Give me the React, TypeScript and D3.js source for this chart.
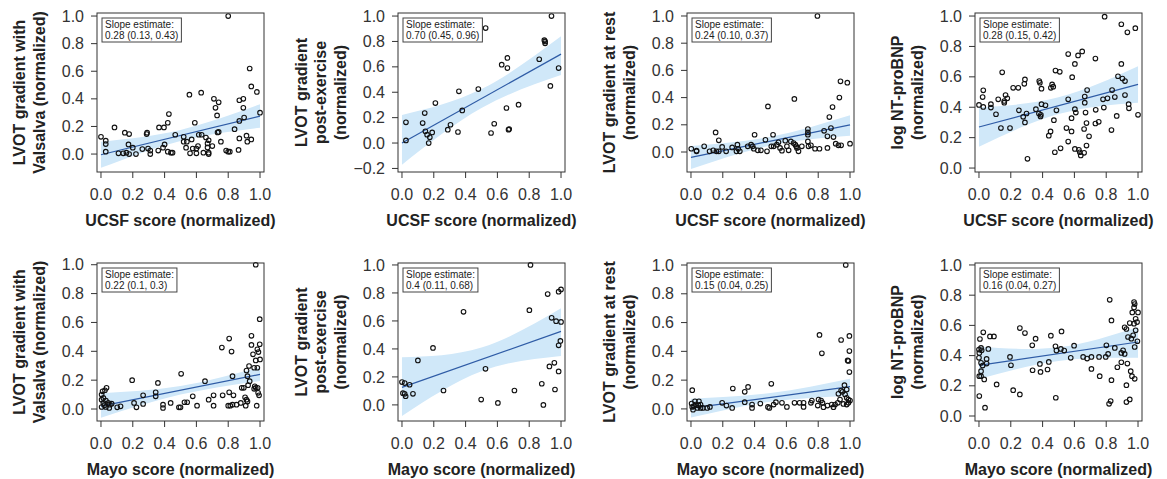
import React, { useEffect, useRef } from 'react';
import * as d3 from 'd3';

const FONT = '"Liberation Sans", Arial, Helvetica, sans-serif';

// axis titles
const yTitles = [
  ['LVOT gradient with', 'Valsalva (normalized)'],
  ['LVOT gradient', 'post-exercise', '(normalized)'],
  ['LVOT gradient at rest', '(normalized)'],
  ['log NT-proBNP', '(normalized)'],
];
const xTitles = ['UCSF score (normalized)', 'Mayo score (normalized)'];

const slopeLabels = [
  '0.28 (0.13, 0.43)', '0.70 (0.45, 0.96)', '0.24 (0.10, 0.37)', '0.28 (0.15, 0.42)',
  '0.22 (0.1, 0.3)', '0.4 (0.11, 0.68)', '0.15 (0.04, 0.25)', '0.16 (0.04, 0.27)',
];

const xTicks = [0, 0.2, 0.4, 0.6, 0.8, 1.0];
const yTicks = [0, 0.2, 0.4, 0.6, 0.8, 1.0];
const yTicksExercise = [-0.2, 0, 0.2, 0.4, 0.6, 0.8, 1.0];

// fitted line: y at x=0 and at x=1
const fitLines = [
  [-0.005, 0.275], [0.0, 0.70], [-0.04, 0.20], [0.27, 0.55],
  [0.02, 0.24], [0.125, 0.525], [0.005, 0.155], [0.335, 0.49],
];
// confidence band read at x = 0, 0.5, 1
const bandX = [0, 0.5, 1];
const bandLower = [
  [-0.10, 0.095, 0.19], [-0.17, 0.275, 0.535], [-0.125, 0.048, 0.12], [0.14, 0.355, 0.43],
  [-0.06, 0.10, 0.195], [-0.08, 0.24, 0.35], [-0.06, 0.05, 0.09], [0.245, 0.365, 0.385],
];
const bandUpper = [
  [0.09, 0.175, 0.36], [0.22, 0.425, 0.84], [0.045, 0.112, 0.27], [0.40, 0.465, 0.67],
  [0.11, 0.16, 0.29], [0.34, 0.41, 0.69], [0.07, 0.11, 0.21], [0.46, 0.455, 0.59],
];

const ucsfValsalva = [
  [0.80, 1.0], [0.935, 0.62], [0.945, 0.49], [0.98, 0.45], [0.556, 0.43], [0.63, 0.445], [0.71, 0.40],
  [0.74, 0.375], [0.72, 0.335], [0.73, 0.28], [0.87, 0.39], [0.895, 0.40], [0.895, 0.335], [0.90, 0.265],
  [0.87, 0.24], [1.0, 0.30], [0.84, 0.18], [0.74, 0.16], [0.427, 0.29], [0.42, 0.227], [0.365, 0.193],
  [0.396, 0.193], [0.59, 0.227], [0.085, 0.193], [0.15, 0.155], [0.177, 0.145], [0.287, 0.145],
  [0.29, 0.155], [0.0, 0.125], [0.03, 0.097], [0.03, 0.072], [0.03, 0.017], [0.173, 0.07], [0.2, 0.046],
  [0.11, 0.005], [0.14, 0.005], [0.16, 0.01], [0.177, 0.0], [0.22, 0.0], [0.26, 0.036], [0.296, 0.04],
  [0.31, 0.025], [0.31, 0.0], [0.36, 0.025], [0.39, 0.046], [0.40, 0.07], [0.42, 0.017], [0.44, 0.01],
  [0.45, 0.01], [0.467, 0.14], [0.52, 0.125], [0.52, 0.09], [0.54, 0.09], [0.535, 0.046], [0.57, 0.106],
  [0.56, 0.005], [0.577, 0.04], [0.60, 0.04], [0.61, 0.058], [0.60, 0.005], [0.615, 0.14], [0.633, 0.14],
  [0.644, 0.01], [0.67, 0.077], [0.67, 0.048], [0.677, 0.01], [0.677, 0.0], [0.66, 0.12], [0.677, 0.1],
  [0.70, 0.058], [0.733, 0.157], [0.754, 0.09], [0.787, 0.025], [0.80, 0.017], [0.81, 0.017],
  [0.87, 0.113], [0.865, 0.03], [0.915, 0.133], [0.92, 0.09], [0.945, 0.106],
];

const ucsfExercise = [
  [0.94, 1.0], [0.526, 0.905], [0.895, 0.81], [0.90, 0.80], [0.90, 0.785], [0.863, 0.66], [0.663, 0.67],
  [0.627, 0.617], [0.663, 0.59], [0.985, 0.59], [0.933, 0.45], [0.48, 0.425], [0.358, 0.407],
  [0.21, 0.315], [0.379, 0.257], [0.657, 0.276], [0.733, 0.302], [0.143, 0.236], [0.025, 0.163],
  [0.13, 0.157], [0.305, 0.144], [0.58, 0.152], [0.288, 0.105], [0.352, 0.087], [0.147, 0.092],
  [0.158, 0.066], [0.19, 0.084], [0.175, 0.045], [0.168, 0.0], [0.025, 0.021], [0.56, 0.079],
  [0.674, 0.11], [0.67, 0.105],
];

const ucsfRest = [
  [0.795, 1.0], [0.94, 0.52], [0.983, 0.51], [0.933, 0.40], [0.65, 0.39], [0.484, 0.335], [0.89, 0.33],
  [0.87, 0.257], [0.88, 0.176], [0.837, 0.156], [0.155, 0.144], [0.735, 0.169], [0.735, 0.144],
  [0.735, 0.127], [0.40, 0.127], [0.516, 0.127], [0.175, 0.086], [0.468, 0.09], [0.858, 0.115],
  [0.896, 0.11], [0.735, 0.078], [0.083, 0.042], [0.002, 0.024], [0.035, 0.01], [0.035, 0.005],
  [0.117, 0.005], [0.14, 0.012], [0.16, 0.005], [0.175, 0.005], [0.196, 0.037], [0.221, 0.005],
  [0.259, 0.034], [0.286, 0.005], [0.292, 0.054], [0.297, 0.024], [0.307, 0.005], [0.357, 0.042],
  [0.378, 0.054], [0.388, 0.042], [0.395, 0.024], [0.42, 0.012], [0.44, 0.012], [0.478, 0.005],
  [0.505, 0.042], [0.52, 0.042], [0.54, 0.054], [0.55, 0.071], [0.56, 0.03], [0.572, 0.01],
  [0.593, 0.083], [0.603, 0.042], [0.614, 0.012], [0.628, 0.078], [0.645, 0.066], [0.656, 0.054],
  [0.662, 0.042], [0.666, 0.03], [0.676, 0.005], [0.697, 0.042], [0.739, 0.042], [0.754, 0.049],
  [0.78, 0.024], [0.808, 0.024], [0.858, 0.03], [0.91, 0.061], [0.927, 0.049], [0.944, 0.049],
  [1.0, 0.061],
];

const ucsfBnp = [
  [0.79, 0.996], [0.895, 0.946], [0.933, 0.893], [0.983, 0.92], [0.895, 0.685], [0.649, 0.767],
  [0.623, 0.741], [0.561, 0.75], [0.732, 0.72], [0.603, 0.685], [0.481, 0.641], [0.508, 0.633],
  [0.146, 0.63], [0.586, 0.598], [0.874, 0.604], [0.902, 0.589], [0.918, 0.572], [0.289, 0.583],
  [0.285, 0.554], [0.379, 0.572], [0.383, 0.561], [0.46, 0.55], [0.467, 0.535], [0.452, 0.528],
  [0.027, 0.511], [0.215, 0.528], [0.247, 0.528], [0.393, 0.522], [0.68, 0.513], [0.837, 0.513],
  [0.023, 0.467], [0.167, 0.48], [0.178, 0.459], [0.159, 0.441], [0.159, 0.43], [0.121, 0.452],
  [0.665, 0.47], [0.561, 0.452], [0.854, 0.467], [0.918, 0.48], [0.808, 0.459], [0.78, 0.452],
  [0.0, 0.415], [0.075, 0.42], [0.075, 0.398], [0.027, 0.402], [0.393, 0.42], [0.418, 0.413],
  [0.665, 0.43], [0.941, 0.42], [0.943, 0.393], [0.785, 0.398], [0.734, 0.383], [0.603, 0.387],
  [0.609, 0.365], [0.67, 0.365], [0.487, 0.38], [0.251, 0.38], [0.358, 0.387], [0.377, 0.359],
  [0.387, 0.339], [0.389, 0.35], [0.278, 0.337], [0.299, 0.359], [0.107, 0.354], [0.582, 0.328],
  [0.471, 0.315], [0.289, 0.3], [0.866, 0.343], [1.0, 0.35], [0.732, 0.293], [0.676, 0.296],
  [0.753, 0.304], [0.138, 0.263], [0.195, 0.263], [0.55, 0.263], [0.661, 0.257], [0.833, 0.25],
  [0.582, 0.241], [0.45, 0.241], [0.439, 0.213], [0.692, 0.209], [0.561, 0.174], [0.676, 0.148],
  [0.603, 0.126], [0.628, 0.12], [0.513, 0.13], [0.477, 0.104], [0.634, 0.104], [0.661, 0.1],
  [0.64, 0.083], [0.305, 0.061],
];

const mayoValsalva = [
  [0.973, 1.0], [0.998, 0.623], [0.946, 0.507], [0.806, 0.488], [0.76, 0.426], [0.821, 0.398],
  [0.946, 0.444], [0.998, 0.449], [0.983, 0.414], [0.99, 0.395], [0.956, 0.379], [1.0, 0.344],
  [0.973, 0.337], [0.931, 0.298], [0.915, 0.267], [0.963, 0.286], [0.983, 0.286], [0.921, 0.228],
  [0.935, 0.193], [0.827, 0.228], [0.925, 0.165], [0.967, 0.158], [0.973, 0.147], [0.985, 0.147],
  [0.963, 0.14], [0.885, 0.147], [0.898, 0.147], [0.988, 0.112], [0.994, 0.095], [0.906, 0.081],
  [0.915, 0.065], [0.921, 0.053], [0.91, 0.023], [0.979, 0.023], [0.879, 0.042], [0.852, 0.03],
  [0.827, 0.03], [0.813, 0.023], [0.8, 0.023], [0.806, 0.116], [0.833, 0.095], [0.765, 0.095],
  [0.708, 0.095], [0.677, 0.065], [0.708, 0.023], [0.654, 0.193], [0.577, 0.088], [0.604, 0.023],
  [0.504, 0.244], [0.525, 0.047], [0.542, 0.047], [0.49, 0.012], [0.5, 0.012], [0.438, 0.042],
  [0.39, 0.03], [0.39, 0.007], [0.358, 0.181], [0.344, 0.116], [0.344, 0.088], [0.265, 0.095],
  [0.265, 0.035], [0.196, 0.2], [0.208, 0.042], [0.223, 0.012], [0.102, 0.012], [0.123, 0.019],
  [0.004, 0.1], [0.01, 0.123], [0.025, 0.13], [0.035, 0.147], [0.004, 0.065], [0.015, 0.042],
  [0.021, 0.026], [0.004, 0.014], [0.031, 0.014], [0.046, 0.042], [0.056, 0.03], [0.067, 0.037],
  [0.052, 0.007], [0.015, 0.077], [0.031, 0.058],
];

const mayoExercise = [
  [0.808, 1.0], [0.435, 0.909], [0.916, 0.792], [0.985, 0.809], [1.0, 0.825], [0.387, 0.665],
  [0.801, 0.677], [0.941, 0.622], [0.969, 0.598], [1.0, 0.593], [0.195, 0.407], [0.996, 0.457],
  [0.985, 0.426], [0.1, 0.318], [0.525, 0.258], [0.958, 0.301], [0.927, 0.275], [0.985, 0.239],
  [0.0, 0.163], [0.017, 0.156], [0.048, 0.144], [0.879, 0.151], [0.006, 0.084], [0.017, 0.079],
  [0.023, 0.062], [0.069, 0.079], [0.261, 0.103], [0.707, 0.103], [0.962, 0.11], [0.498, 0.038],
  [0.603, 0.014], [0.889, 0.0],
];

const mayoRest = [
  [0.973, 1.0], [0.808, 0.514], [0.996, 0.507], [0.944, 0.479], [0.823, 0.386], [0.996, 0.402],
  [0.985, 0.337], [0.99, 0.333], [0.996, 0.256], [0.505, 0.174], [0.008, 0.13], [0.263, 0.142],
  [0.359, 0.153], [0.338, 0.119], [0.965, 0.165], [0.944, 0.128], [0.979, 0.135], [0.927, 0.105],
  [0.952, 0.119], [0.969, 0.1], [0.979, 0.077], [0.99, 0.065], [1.0, 0.058], [0.979, 0.03],
  [0.99, 0.042], [0.958, 0.035], [0.937, 0.065], [0.923, 0.042], [0.906, 0.03], [0.896, 0.012],
  [0.885, 0.03], [0.858, 0.023], [0.833, 0.012], [0.827, 0.042], [0.802, 0.065], [0.797, 0.023],
  [0.818, 0.058], [0.76, 0.058], [0.754, 0.042], [0.708, 0.042], [0.708, 0.014], [0.683, 0.042],
  [0.651, 0.042], [0.603, 0.014], [0.572, 0.042], [0.534, 0.047], [0.52, 0.03], [0.484, 0.014],
  [0.493, 0.007], [0.436, 0.037], [0.384, 0.03], [0.384, 0.007], [0.338, 0.047], [0.259, 0.007],
  [0.223, 0.023], [0.196, 0.042], [0.102, 0.007], [0.119, 0.014], [0.004, 0.037], [0.008, 0.014],
  [0.013, -0.005], [0.025, 0.053], [0.029, 0.03], [0.04, 0.007], [0.05, 0.053], [0.046, 0.026],
  [0.06, 0.03], [0.06, 0.007], [0.075, 0.007], [0.019, 0.019],
];

const mayoBnp = [
  [0.822, 0.769], [0.975, 0.754], [0.979, 0.741], [0.975, 0.719], [0.964, 0.686], [1.0, 0.686],
  [0.985, 0.644], [0.833, 0.633], [0.994, 0.622], [0.975, 0.611], [0.948, 0.615], [0.916, 0.587],
  [0.927, 0.576], [0.985, 0.567], [0.969, 0.534], [0.937, 0.523], [0.958, 0.512], [0.996, 0.495],
  [0.979, 0.457], [0.854, 0.451], [0.906, 0.435], [0.895, 0.418], [0.916, 0.411], [0.801, 0.468],
  [0.812, 0.411], [0.797, 0.391], [0.895, 0.356], [0.933, 0.347], [0.87, 0.323], [0.954, 0.297],
  [0.962, 0.264], [0.979, 0.246], [0.833, 0.237], [0.927, 0.204], [0.948, 0.11], [0.927, 0.092],
  [0.828, 0.099], [0.818, 0.081], [0.759, 0.264], [0.755, 0.391], [0.707, 0.391], [0.68, 0.38],
  [0.655, 0.391], [0.707, 0.312], [0.598, 0.466], [0.577, 0.385], [0.519, 0.56], [0.481, 0.462],
  [0.487, 0.433], [0.515, 0.444], [0.536, 0.433], [0.452, 0.532], [0.439, 0.358], [0.431, 0.308],
  [0.383, 0.345], [0.387, 0.292], [0.483, 0.121], [0.335, 0.468], [0.356, 0.512], [0.337, 0.303],
  [0.289, 0.549], [0.257, 0.582], [0.195, 0.391], [0.201, 0.336], [0.215, 0.171], [0.257, 0.143],
  [0.111, 0.209], [0.069, 0.527], [0.094, 0.527], [0.059, 0.444], [0.027, 0.554], [0.006, 0.51],
  [0.0, 0.44], [0.002, 0.418], [0.013, 0.451], [0.017, 0.435], [0.0, 0.385], [0.013, 0.352],
  [0.023, 0.334], [0.013, 0.297], [0.002, 0.264], [0.013, 0.264], [0.033, 0.242], [0.048, 0.378],
  [0.048, 0.347], [0.002, 0.132], [0.038, 0.055],
];

const pointSets = [ucsfValsalva, ucsfExercise, ucsfRest, ucsfBnp, mayoValsalva, mayoExercise, mayoRest, mayoBnp];

// layout
const colLeft = [97, 398, 687, 975];
const boxW = 167;
const rowTop = [13, 263];
const rowBottom = [172, 421];
const yDomains = [
  [-0.130, 1.022], [-0.228, 1.024], [-0.147, 1.022], [-0.026, 1.02],
  [-0.083, 1.012], [-0.115, 1.014], [-0.084, 1.014], [-0.033, 1.013],
];

const App = () => {
  const ref = useRef<SVGSVGElement>(null);

  useEffect(() => {
    const svg = d3.select(ref.current);
    svg.selectAll('*').remove();
    const fmt = d3.format('.1f');

    pointSets.forEach((pts, i) => {
      const col = i % 4, row = Math.floor(i / 4);
      const left = colLeft[col], right = left + boxW;
      const top = rowTop[row], bottom = rowBottom[row];

      const x = d3.scaleLinear().domain([-0.025, 1.025]).range([left, right]);
      const y = d3.scaleLinear().domain(yDomains[i]).range([bottom, top]);
      const g = svg.append('g');

      // confidence band
      const band = bandX.map((bx, k) => ({ x: bx, lo: bandLower[i][k], hi: bandUpper[i][k] }));
      const area = d3.area<any>()
        .x(d => x(d.x)).y0(d => y(d.lo)).y1(d => y(d.hi))
        .curve(d3.curveNatural);
      g.append('path').attr('d', area(band)).attr('fill', '#d0e8f9');

      // fitted line
      g.append('line')
        .attr('x1', x(0)).attr('y1', y(fitLines[i][0]))
        .attr('x2', x(1)).attr('y2', y(fitLines[i][1]))
        .attr('stroke', '#2f5ca6').attr('stroke-width', 1.2);

      // points
      g.selectAll('circle.pt').data(pts).enter().append('circle')
        .attr('cx', d => x(d[0])).attr('cy', d => y(d[1])).attr('r', 2.3)
        .attr('fill', 'none').attr('stroke', '#111').attr('stroke-width', 1.1);

      // box
      g.append('rect').attr('x', left).attr('y', top)
        .attr('width', right - left).attr('height', bottom - top)
        .attr('fill', 'none').attr('stroke', '#333').attr('stroke-width', 1);

      // x axis
      xTicks.forEach(t => {
        g.append('line').attr('x1', x(t)).attr('x2', x(t)).attr('y1', bottom).attr('y2', bottom + 6)
          .attr('stroke', '#333');
        g.append('text').attr('x', x(t)).attr('y', bottom + 22).attr('dy', '0.35em')
          .attr('text-anchor', 'middle').attr('font-family', FONT).attr('font-size', 16)
          .attr('fill', '#333').text(fmt(t));
      });
      // y axis
      const yt = col === 1 && row === 0 ? yTicksExercise : yTicks;
      yt.forEach(t => {
        g.append('line').attr('x1', left - 6).attr('x2', left).attr('y1', y(t)).attr('y2', y(t))
          .attr('stroke', '#333');
        g.append('text').attr('x', left - 13).attr('y', y(t)).attr('dy', '0.35em')
          .attr('text-anchor', 'end').attr('font-family', FONT).attr('font-size', 16)
          .attr('fill', '#333').text(fmt(t));
      });

      // titles
      g.append('text').attr('x', (left + right) / 2).attr('y', bottom + 48).attr('dy', '0.35em')
        .attr('text-anchor', 'middle').attr('font-family', FONT).attr('font-size', 16)
        .attr('font-weight', 'bold').attr('fill', '#222').text(xTitles[row]);
      const lines = yTitles[col];
      const cy = (top + bottom) / 2;
      lines.forEach((ln, k) => {
        const cx = left - 58 - (lines.length - 1 - k) * 19.5;
        g.append('text').attr('transform', `translate(${cx},${cy}) rotate(-90)`)
          .attr('dy', '0.35em').attr('text-anchor', 'middle').attr('font-family', FONT)
          .attr('font-size', 16).attr('font-weight', 'bold').attr('fill', '#222').text(ln);
      });

      // slope estimate box
      const sb = g.append('g').attr('transform', `translate(${left + 5},${top + 5})`);
      const rect = sb.append('rect').attr('height', 24).attr('fill', 'white')
        .attr('stroke', '#444').attr('stroke-width', 1);
      const t1 = sb.append('text').attr('x', 3).attr('y', 9.5).attr('font-family', FONT)
        .attr('font-size', 10).attr('fill', '#222').text('Slope estimate:');
      const t2 = sb.append('text').attr('x', 3).attr('y', 20.5).attr('font-family', FONT)
        .attr('font-size', 10).attr('fill', '#222').text(slopeLabels[i]);
      const w = Math.max((t1.node() as SVGTextElement).getComputedTextLength(),
        (t2.node() as SVGTextElement).getComputedTextLength());
      rect.attr('width', w + 6);
    });
  }, []);

  return (
    <div style={{ position: 'absolute', left: 0, top: 0 }}>
      <svg ref={ref} width={1167} height={479} style={{ display: 'block', background: '#fff' }} />
    </div>
  );
};

export default App;
